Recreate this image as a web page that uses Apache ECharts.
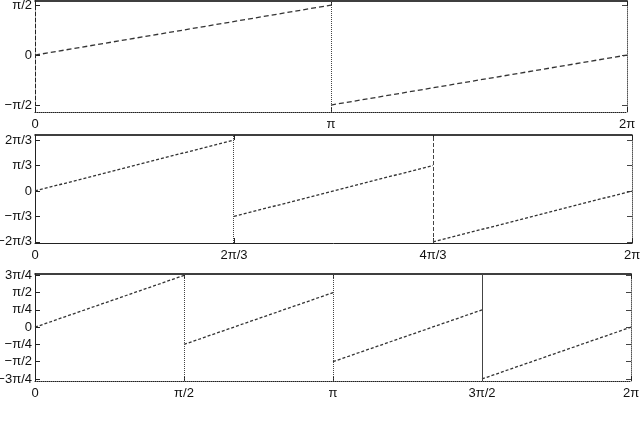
<!DOCTYPE html>
<html>
<head>
<meta charset="utf-8">
<script src="https://cdn.jsdelivr.net/npm/echarts@6/dist/echarts.min.js"></script>
<style>
  html, body { margin: 0; padding: 0; background: #fff; }
  #chart { width: 640px; height: 428px; }
</style>
</head>
<body>
<div id="chart"></div>
<script>
// values in units of pi
var PI = Math.PI;

// panel 1
var p1StartX = [0, 1];
var p1EndX = [1, 2];
var p1StartY = [0, -0.5];
var p1EndY = [0.5, 0];
var p1Jumps = [1];
var p1XTicks = [0, 1, 2];
var p1XLabels = ['0', 'π', '2π'];
var p1YTicks = [-0.5, 0, 0.5];
var p1YLabels = ['−π/2', '0', 'π/2'];

// panel 2
var p2StartX = [0, 2 / 3, 4 / 3];
var p2EndX = [2 / 3, 4 / 3, 2];
var p2StartY = [0, -1 / 3, -2 / 3];
var p2EndY = [2 / 3, 1 / 3, 0];
var p2Jumps = [2 / 3, 4 / 3];
var p2XTicks = [0, 2 / 3, 4 / 3, 2];
var p2XLabels = ['0', '2π/3', '4π/3', '2π'];
var p2YTicks = [-2 / 3, -1 / 3, 0, 1 / 3, 2 / 3];
var p2YLabels = ['−2π/3', '−π/3', '0', 'π/3', '2π/3'];

// panel 3
var p3StartX = [0, 0.5, 1, 1.5];
var p3EndX = [0.5, 1, 1.5, 2];
var p3StartY = [0, -0.25, -0.5, -0.75];
var p3EndY = [0.75, 0.5, 0.25, 0];
var p3Jumps = [0.5, 1, 1.5];
var p3XTicks = [0, 0.5, 1, 1.5, 2];
var p3XLabels = ['0', 'π/2', 'π', '3π/2', '2π'];
var p3YTicks = [-0.75, -0.5, -0.25, 0, 0.25, 0.5, 0.75];
var p3YLabels = ['−3π/4', '−π/2', '−π/4', '0', 'π/4', 'π/2', '3π/4'];

var panels = [
  { sx: p1StartX, ex: p1EndX, sy: p1StartY, ey: p1EndY, jumps: p1Jumps, jumpStyle: ['dotted'],
    xt: p1XTicks, xl: p1XLabels, yt: p1YTicks, yl: p1YLabels,
    grid: { left: 35, top: 1, width: 592, height: 111 }, ymin: -1.79, ymax: 1.70,
    dash: [5, 3], leftLine: 'dashed', bottomLine: 'dotted' },
  { sx: p2StartX, ex: p2EndX, sy: p2StartY, ey: p2EndY, jumps: p2Jumps, jumpStyle: ['dotted', 'dashed'],
    xt: p2XTicks, xl: p2XLabels, yt: p2YTicks, yl: p2YLabels,
    grid: { left: 35, top: 135, width: 597, height: 108 }, ymin: -2.14, ymax: 2.30,
    dash: [3, 2], leftLine: 'solid', bottomLine: 'solid' },
  { sx: p3StartX, ex: p3EndX, sy: p3StartY, ey: p3EndY, jumps: p3Jumps, jumpStyle: ['dotted', 'dotted', 'solid'],
    xt: p3XTicks, xl: p3XLabels, yt: p3YTicks, yl: p3YLabels,
    grid: { left: 35, top: 274, width: 596, height: 107 }, ymin: -2.45, ymax: 2.42,
    dash: [3, 2], leftLine: 'solid', bottomLine: 'dotted' }
];

function scaled(arr) { return arr.map(function (v) { return v * PI; }); }

function labelFor(ticks, labels) {
  return function (v) {
    var best = 0;
    for (var i = 0; i < ticks.length; i++) {
      if (Math.abs(ticks[i] * PI - v) < Math.abs(ticks[best] * PI - v)) best = i;
    }
    return labels[best];
  };
}

var grids = [], xAxes = [], yAxes = [], series = [];
var font = { fontFamily: 'Liberation Sans', fontSize: 13, color: '#111' };

panels.forEach(function (p, g) {
  grids.push(Object.assign({ containLabel: false, outerBoundsMode: 'none' }, p.grid));
  var xt = scaled(p.xt), yt = scaled(p.yt);
  // bottom
  xAxes.push({
    gridIndex: g, type: 'value', min: 0, max: 2 * PI, position: 'bottom',
    axisLine: { show: true, onZero: false, lineStyle: { color: '#222', width: 1, type: p.bottomLine } },
    axisTick: { show: true, inside: true, length: 5, customValues: xt, lineStyle: { color: '#222' } },
    axisLabel: Object.assign({ customValues: xt, formatter: labelFor(p.xt, p.xl), margin: 6 }, font),
    splitLine: { show: false }
  });
  // top
  xAxes.push({
    gridIndex: g, type: 'value', min: 0, max: 2 * PI, position: 'top',
    axisLine: { show: true, onZero: false, lineStyle: { color: '#000', width: 1.5 } },
    axisTick: { show: true, inside: true, length: 5, customValues: xt, lineStyle: { color: '#222' } },
    axisLabel: { show: false },
    splitLine: { show: false }
  });
  // left
  yAxes.push({
    gridIndex: g, type: 'value', min: p.ymin, max: p.ymax, position: 'left',
    axisLine: { show: true, onZero: false, lineStyle: { color: '#222', width: 1, type: p.leftLine } },
    axisTick: { show: true, inside: true, length: 5, customValues: yt, lineStyle: { color: '#222' } },
    axisLabel: Object.assign({ customValues: yt, formatter: labelFor(p.yt, p.yl), margin: 3 }, font),
    splitLine: { show: false }
  });
  // right
  yAxes.push({
    gridIndex: g, type: 'value', min: p.ymin, max: p.ymax, position: 'right',
    axisLine: { show: true, onZero: false, lineStyle: { color: '#555', width: 1, type: 'dotted' } },
    axisTick: { show: true, inside: true, length: 5, customValues: yt, lineStyle: { color: '#444' } },
    axisLabel: { show: false },
    splitLine: { show: false }
  });

  // sawtooth segments
  var data = [];
  for (var i = 0; i < p.sx.length; i++) {
    data.push([p.sx[i] * PI, p.sy[i] * PI]);
    data.push([p.ex[i] * PI, p.ey[i] * PI]);
    if (i < p.sx.length - 1) data.push(null);
  }
  series.push({
    type: 'line', xAxisIndex: 2 * g, yAxisIndex: 2 * g, data: data,
    showSymbol: false, connectNulls: false, animation: false,
    lineStyle: { color: '#333', width: 1.3, type: p.dash },
    markLine: {
      silent: true, symbol: 'none', label: { show: false }, animation: false,
      data: p.jumps.map(function (j, k) {
        return {
          xAxis: j * PI,
          lineStyle: { color: '#444', width: 1, type: p.jumpStyle[k] }
        };
      })
    }
  });
});

var chart = echarts.init(document.getElementById('chart'));
chart.setOption({
  animation: false,
  grid: grids,
  xAxis: xAxes,
  yAxis: yAxes,
  series: series
});
</script>
</body>
</html>
